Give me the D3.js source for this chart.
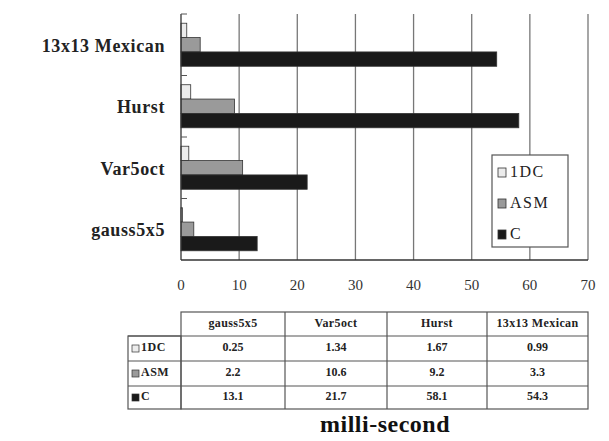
<!DOCTYPE html>
<html><head><meta charset="utf-8">
<script src="https://cdn.jsdelivr.net/npm/d3@7"></script>
<style>body{margin:0;background:#fff;} svg{display:block;} text{font-family:"Liberation Serif","Times New Roman","DejaVu Serif",serif;}</style>
</head><body>
<script>
const categories = ["13x13 Mexican", "Hurst", "Var5oct", "gauss5x5"];
const tableCategories = ["gauss5x5", "Var5oct", "Hurst", "13x13 Mexican"];
const seriesNames = ["1DC", "ASM", "C"];
const seriesColors = ["#ececec", "#9a9a9a", "#1a1a1a"];
const values1DC = {"gauss5x5": 0.25, "Var5oct": 1.34, "Hurst": 1.67, "13x13 Mexican": 0.99};
const valuesASM = {"gauss5x5": 2.2, "Var5oct": 10.6, "Hurst": 9.2, "13x13 Mexican": 3.3};
const valuesC = {"gauss5x5": 13.1, "Var5oct": 21.7, "Hurst": 58.1, "13x13 Mexican": 54.3};
const tableText1DC = ["0.25", "1.34", "1.67", "0.99"];
const tableTextASM = ["2.2", "10.6", "9.2", "3.3"];
const tableTextC = ["13.1", "21.7", "58.1", "54.3"];
const xTicks = [0, 10, 20, 30, 40, 50, 60, 70];
const axisTitle = "milli-second";

const series = [values1DC, valuesASM, valuesC];
const W = 609, H = 441;
const svg = d3.select("body").append("svg").attr("width", W).attr("height", H);

const x = d3.scaleLinear().domain([0, 70]).range([181, 588]);
const y = d3.scaleBand().domain(categories).range([14, 260]).paddingInner(0.3).paddingOuter(0.15);
const ySub = d3.scaleBand().domain(seriesNames).range([0, y.bandwidth()]);

// gridlines
svg.append("g").selectAll("line").data(xTicks.filter(d => d > 0)).join("line")
  .attr("x1", d => x(d)).attr("x2", d => x(d)).attr("y1", 14).attr("y2", 260)
  .attr("stroke", "#777").attr("stroke-width", 1.3);

// bars
const groups = svg.append("g").selectAll("g").data(categories).join("g")
  .attr("transform", d => `translate(0,${y(d)})`);
groups.selectAll("rect").data(c => seriesNames.map((s, i) => ({s, i, v: series[i][c]}))).join("rect")
  .attr("x", x(0)).attr("y", d => ySub(d.s)).attr("height", ySub.bandwidth())
  .attr("width", d => x(d.v) - x(0))
  .attr("fill", d => seriesColors[d.i]).attr("stroke", "#333").attr("stroke-width", 0.8);

// axes lines
svg.append("line").attr("x1", 181).attr("x2", 588).attr("y1", 260).attr("y2", 260).attr("stroke", "#333").attr("stroke-width", 1.3);
svg.append("line").attr("x1", 181).attr("x2", 181).attr("y1", 14).attr("y2", 260).attr("stroke", "#333").attr("stroke-width", 1.3);
// band boundary ticks
const bounds = categories.map(c => y(c) - y.step() * y.paddingInner() / 2);
svg.append("g").selectAll("line").data(bounds).join("line")
  .attr("x1", 181).attr("x2", 187).attr("y1", d => d).attr("y2", d => d).attr("stroke", "#555");

// category labels
svg.append("g").selectAll("text").data(categories).join("text")
  .attr("x", 165).attr("y", d => y(d) + y.bandwidth() / 2 + 3).attr("text-anchor", "end")
  .attr("dominant-baseline", "middle").attr("font-size", 18).attr("letter-spacing", 0.6)
  .attr("font-weight", "bold").attr("fill", "#222").text(d => d);

// x tick labels
svg.append("g").selectAll("text").data(xTicks).join("text")
  .attr("x", d => x(d)).attr("y", 290).attr("text-anchor", "middle")
  .attr("font-size", 15).attr("fill", "#333").text(d => d);

// legend
const lg = svg.append("g");
lg.append("rect").attr("x", 492).attr("y", 155).attr("width", 76).attr("height", 92)
  .attr("fill", "#fff").attr("stroke", "#555").attr("stroke-width", 1.2);
seriesNames.forEach((s, i) => {
  const cy = 173 + i * 31;
  lg.append("rect").attr("x", 498).attr("y", cy - 5).attr("width", 8).attr("height", 9)
    .attr("fill", seriesColors[i]).attr("stroke", "#333").attr("stroke-width", 0.8);
  lg.append("text").attr("x", 510).attr("y", cy).attr("dominant-baseline", "middle")
    .attr("font-size", 16).attr("letter-spacing", 1.5).attr("fill", "#222").text(s);
});

// table
const colX = [181, 285, 387, 487, 588];
const rowY = [312, 336, 361, 386, 409];
const tg = svg.append("g").attr("stroke", "#555").attr("stroke-width", 1.2);
tg.append("rect").attr("x", 181).attr("y", 312).attr("width", 407).attr("height", 97).attr("fill", "none");
tg.append("rect").attr("x", 128).attr("y", 336).attr("width", 53).attr("height", 73).attr("fill", "none");
colX.slice(1, 4).forEach(cx => tg.append("line").attr("x1", cx).attr("x2", cx).attr("y1", 312).attr("y2", 409));
rowY.slice(1, 4).forEach(ry => tg.append("line").attr("x1", 128).attr("x2", 588).attr("y1", ry).attr("y2", ry));

const tt = svg.append("g").attr("font-weight", "bold").attr("fill", "#222");
tableCategories.forEach((c, j) => {
  const cx = (colX[j] + colX[j + 1]) / 2;
  tt.append("text").attr("x", cx).attr("y", 324).attr("text-anchor", "middle").attr("dominant-baseline", "middle")
    .attr("font-size", 12).attr("letter-spacing", 0.4).text(c);
});
[tableText1DC, tableTextASM, tableTextC].forEach((arr, i) => {
  const cy = (rowY[i + 1] + rowY[i + 2]) / 2;
  arr.forEach((t, j) => {
    const cx = (colX[j] + colX[j + 1]) / 2;
    tt.append("text").attr("x", cx).attr("y", cy).attr("text-anchor", "middle").attr("dominant-baseline", "middle")
      .attr("font-size", 12).text(t);
  });
  tt.append("rect").attr("x", 132).attr("y", cy - 3.5).attr("width", 7).attr("height", 7)
    .attr("fill", seriesColors[i]).attr("stroke", "#333").attr("stroke-width", 0.7);
  tt.append("text").attr("x", 141).attr("y", cy).attr("dominant-baseline", "middle")
    .attr("font-size", 12).attr("letter-spacing", 0.5).text(seriesNames[i]);
});

// axis title
svg.append("text").attr("x", 385).attr("y", 432).attr("text-anchor", "middle")
  .attr("font-weight", "bold").attr("font-size", 24).attr("letter-spacing", 0.5).attr("fill", "#111").text(axisTitle);
</script>
</body></html>
